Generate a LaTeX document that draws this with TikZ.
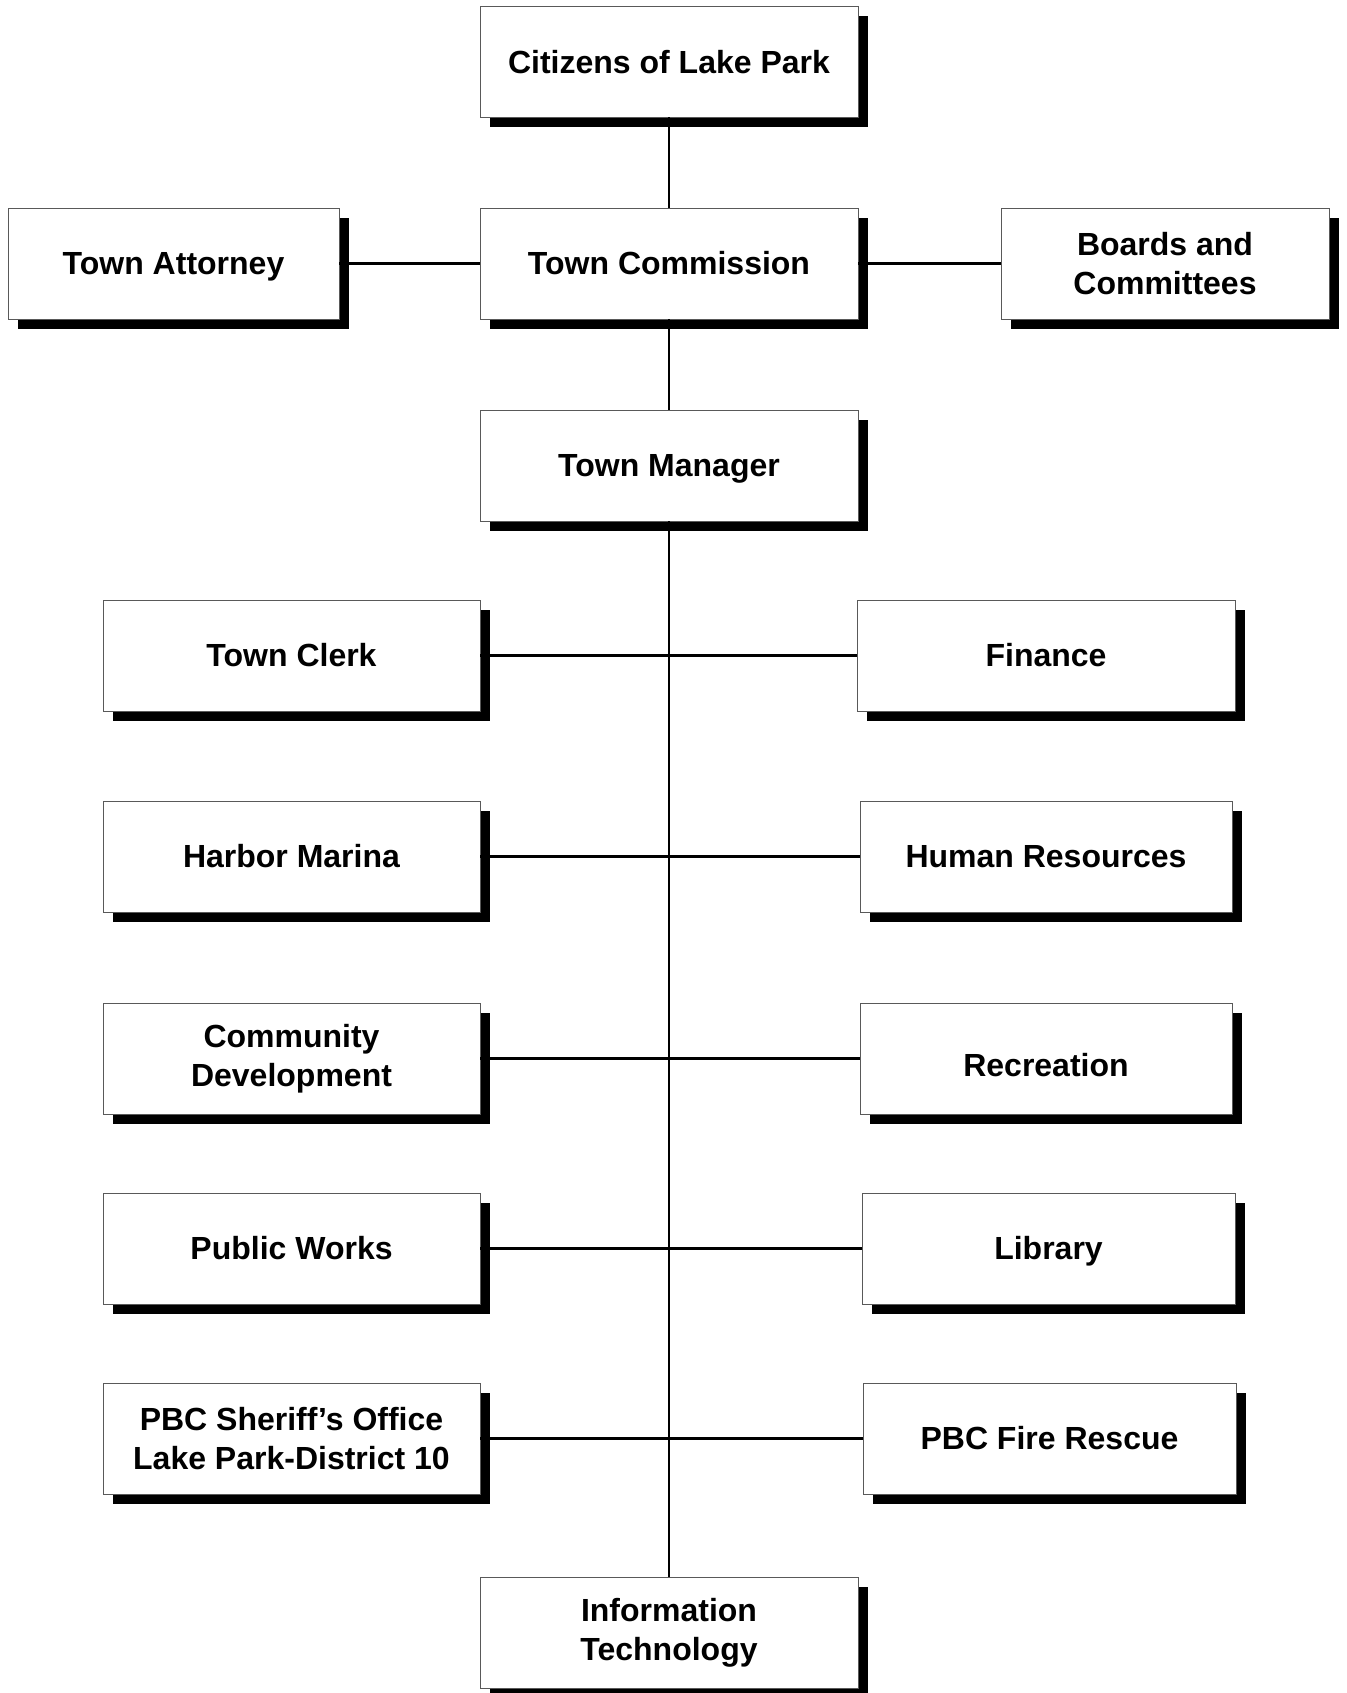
\documentclass[tikz,border=0pt]{standalone}
\usepackage{fontspec}
\setmainfont{Liberation Sans}
\usetikzlibrary{shadows}
\begin{document}
\begin{tikzpicture}[x=1pt,y=-1pt,
  orgbox/.style={draw=black!65, line width=0.9pt, fill=white, inner sep=0pt, outer sep=0pt,
    minimum height=111pt, align=center,
    font=\fontsize{32}{39}\selectfont\bfseries,
    general shadow={fill=black, shadow xshift=10pt, shadow yshift=-10pt}},
  oneline/.style={orgbox, text height=22.9pt, text depth=0pt},
  link/.style={line width=2.6pt, black}]
\useasboundingbox[fill=white] (0,0) rectangle (1346,1693);
\node[oneline, minimum width=378pt] (cit) at (669,62) {Citizens of Lake Park};
\node[oneline, minimum width=378pt] (com) at (669,263.5) {Town Commission};
\node[oneline, minimum width=331pt] (att) at (173.5,263.5) {Town Attorney};
\node[orgbox, minimum width=328pt] (brd) at (1165,263.5) {Boards and\\Committees};
\node[oneline, minimum width=378pt] (mgr) at (669,465.5) {Town Manager};
\node[oneline, minimum width=377pt] (clk) at (291.5,655.5) {Town Clerk};
\node[oneline, minimum width=377pt] (hm) at (291.5,856.5) {Harbor Marina};
\node[orgbox, minimum width=377pt] (cd) at (291.5,1058.5) {Community\\Development};
\node[oneline, minimum width=377pt] (pw) at (291.5,1248.5) {Public Works};
\node[orgbox, minimum width=377pt] (pbso) at (291.5,1438.5) {PBC Sheriff’s Office\\Lake Park-District 10};
\node[oneline, minimum width=378pt] (fin) at (1046,655.5) {Finance};
\node[oneline, minimum width=372pt] (hr) at (1046,856.5) {Human Resources};
\node[oneline, minimum width=372pt, text height=36.9pt] (rec) at (1046,1058.5) {Recreation};
\node[oneline, minimum width=373pt] (lib) at (1048.5,1248.5) {Library};
\node[oneline, minimum width=373pt] (fire) at (1049.5,1438.5) {PBC Fire Rescue};
\node[orgbox, minimum width=378pt] (it) at (669,1632.5) {Information\\Technology};
\draw[link] (cit.south) -- (com.north);
\draw[link] (att.east) -- (com.west);
\draw[link] (com.east) -- (brd.west);
\draw[link] (com.south) -- (mgr.north);
\draw[link] (mgr.south) -- (it.north);
\draw[link] (clk.east) -- (fin.west);
\draw[link] (hm.east) -- (hr.west);
\draw[link] (cd.east) -- (rec.west);
\draw[link] (pw.east) -- (lib.west);
\draw[link] (pbso.east) -- (fire.west);
\end{tikzpicture}
\end{document}
